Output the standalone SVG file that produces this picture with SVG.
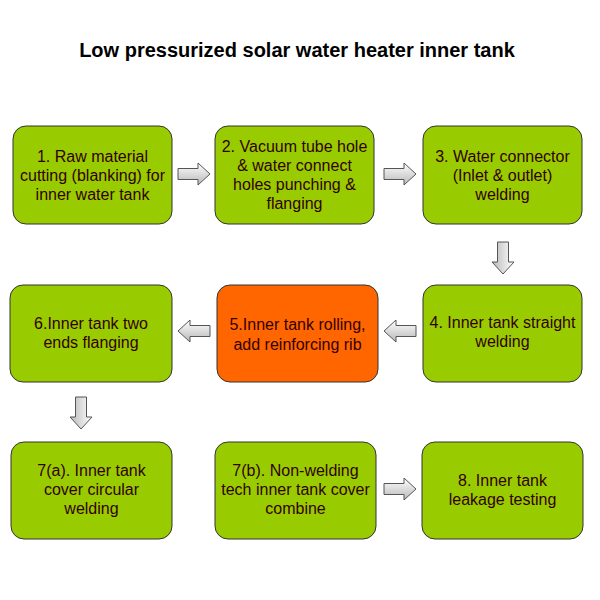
<svg xmlns="http://www.w3.org/2000/svg" xmlns:xlink="http://www.w3.org/1999/xlink" width="600" height="600" viewBox="0 0 600 600">
<style>
.box{fill:#99cc00;stroke:#333;stroke-width:1}
.hot{fill:#ff6600}
.t{font-family:"Liberation Sans",Arial,sans-serif;font-size:16px;fill:#330000;text-anchor:middle}
.title{font-family:"Liberation Sans",Arial,sans-serif;font-size:20px;font-weight:bold;fill:#000;text-anchor:middle}
.arr{fill:url(#g);stroke:#555;stroke-width:1}
</style>
<defs>
<linearGradient id="g" x1="0" y1="0" x2="0" y2="1">
<stop offset="0" stop-color="#ffffff"/>
<stop offset="1" stop-color="#b8b8b8"/>
</linearGradient>
<path id="arr" class="arr" d="M0,-5.5 H20 V-11 L32,0 L20,11 V5.5 H0 Z"/>
</defs>
<rect width="600" height="600" fill="#fff"/>
<text class="title" x="297" y="57">Low pressurized solar water heater inner tank</text>
<g id="connectors">
<use xlink:href="#arr" href="#arr" transform="translate(178,174)"/>
<use xlink:href="#arr" href="#arr" transform="translate(384,174)"/>
<use xlink:href="#arr" href="#arr" transform="translate(503,242) rotate(90)"/>
<use xlink:href="#arr" href="#arr" transform="translate(416,331) scale(-1,1)"/>
<use xlink:href="#arr" href="#arr" transform="translate(210,331) scale(-1,1)"/>
<use xlink:href="#arr" href="#arr" transform="translate(81,397) rotate(90)"/>
<use xlink:href="#arr" href="#arr" transform="translate(384,489)"/>
</g>
<g id="n1"><rect class="box" x="13" y="126" width="159" height="98" rx="13"/>
<text class="t" x="92.5"><tspan x="92.5" y="162">1. Raw material</tspan><tspan x="92.5" y="181">cutting (blanking) for</tspan><tspan x="92.5" y="200">inner water tank</tspan></text></g>
<g id="n2"><rect class="box" x="215" y="126" width="159" height="98" rx="13"/>
<text class="t"><tspan x="294.5" y="152">2. Vacuum tube hole</tspan><tspan x="294.5" y="171">&amp; water connect</tspan><tspan x="294.5" y="190">holes punching &amp;</tspan><tspan x="294.5" y="209">flanging</tspan></text></g>
<g id="n3"><rect class="box" x="423" y="126" width="159" height="98" rx="13"/>
<text class="t"><tspan x="502.5" y="162">3. Water connector</tspan><tspan x="502.5" y="181">(Inlet &amp; outlet)</tspan><tspan x="502.5" y="200">welding</tspan></text></g>
<g id="n4"><rect class="box" x="423" y="285" width="159" height="97" rx="13"/>
<text class="t"><tspan x="502.5" y="328">4. Inner tank straight</tspan><tspan x="502.5" y="347">welding</tspan></text></g>
<g id="n5"><rect class="box hot" x="217" y="285" width="161" height="97" rx="13"/>
<text class="t"><tspan x="297.5" y="330">5.Inner tank rolling,</tspan><tspan x="297.5" y="350">add reinforcing rib</tspan></text></g>
<g id="n6"><rect class="box" x="10" y="285" width="162" height="97" rx="13"/>
<text class="t"><tspan x="91" y="329">6.Inner tank two</tspan><tspan x="91" y="348">ends flanging</tspan></text></g>
<g id="n7a"><rect class="box" x="11" y="442" width="161" height="97" rx="13"/>
<text class="t"><tspan x="91.5" y="476">7(a). Inner tank</tspan><tspan x="91.5" y="495">cover circular</tspan><tspan x="91.5" y="514">welding</tspan></text></g>
<g id="n7b"><rect class="box" x="215" y="442" width="161" height="97" rx="13"/>
<text class="t"><tspan x="295.5" y="476">7(b). Non-welding</tspan><tspan x="295.5" y="495">tech inner tank cover</tspan><tspan x="295.5" y="514">combine</tspan></text></g>
<g id="n8"><rect class="box" x="422" y="442" width="161" height="97" rx="13"/>
<text class="t"><tspan x="502.5" y="486">8. Inner tank</tspan><tspan x="502.5" y="505">leakage testing</tspan></text></g>
</svg>
